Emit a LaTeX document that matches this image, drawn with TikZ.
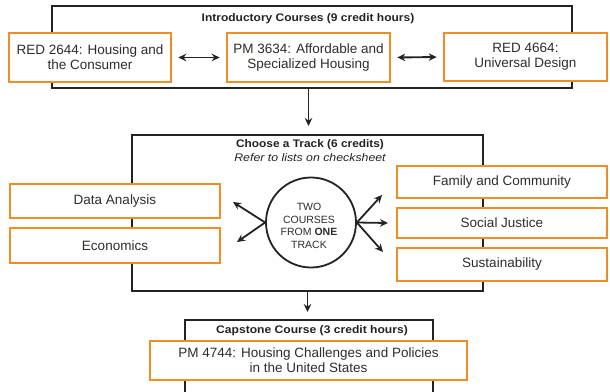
\documentclass[tikz,border=0pt]{standalone}
\usepackage{fontspec}
\setmainfont{Liberation Sans}
\usetikzlibrary{arrows.meta}
\definecolor{orng}{RGB}{238,142,36}
\definecolor{dk}{RGB}{35,35,35}
\definecolor{txt}{RGB}{45,45,45}
\begin{document}
\begin{tikzpicture}[x=1pt,y=-1pt,
  frame/.style={draw=dk, line width=2pt, inner sep=0pt},
  course/.style={draw=orng, line width=2.6pt, fill=white, inner sep=0pt, align=center,
     font=\fontsize{13.5}{15}\selectfont, text=txt},
  ttl/.style={font=\fontsize{11}{13}\selectfont\bfseries, text=dk, inner sep=0pt},
  sub/.style={font=\fontsize{11}{13}\selectfont\itshape, text=dk, inner sep=0pt},
  tip/.style={-{Stealth[length=8pt,width=7.5pt]}, line width=1.8pt, draw=dk},
  dbl/.style={{Stealth[length=8pt,width=7.5pt]}-{Stealth[length=8pt,width=7.5pt]}, line width=1.9pt, draw=dk,
     shorten <=6pt, shorten >=6pt}
]
\useasboundingbox (0,0) rectangle (610,391);
\fill[white] (0,0) rectangle (610,391);

% frames
\node[frame, minimum width=520pt, minimum height=82pt] (intro) at (312,47) {};
\node[frame, minimum width=351pt, minimum height=156pt] (track) at (307.5,213) {};
\node[frame, minimum width=248pt, minimum height=84pt] (cap) at (309,362) {};

% titles
\node[ttl] (t1) at (308,19) {\scalebox{1.09}[1]{Introductory Courses (9 credit hours)}};
\node[ttl] (t2) at (310,145) {\scalebox{1.08}[1]{Choose a Track (6 credits)}};
\node[sub] (t2b) at (310,158) {\scalebox{1.12}[1]{Refer to lists on checksheet}};
\node[ttl] (t3) at (312,331) {\scalebox{1.1}[1]{Capstone Course (3 credit hours)}};

% intro courses
\node[course, minimum width=162pt, minimum height=49pt] (red2644) at (90,57.5) {RED 2644: Housing and\\the Consumer};
\node[course, minimum width=163pt, minimum height=49pt] (pm3634) at (308.5,57.5) {PM 3634: Affordable and\\Specialized Housing};
\node[course, minimum width=163pt, minimum height=48pt] (red4664) at (525.5,57) {RED 4664:\\Universal Design};
\draw[dbl] (red2644.east) -- (pm3634.west);
\draw[dbl] (pm3634.east) -- (red4664.west);

% tracks
\node[course, minimum width=210pt, minimum height=34pt] (data) at (115,201) {Data Analysis};
\node[course, minimum width=210pt, minimum height=35pt] (econ) at (115,245.5) {Economics};
\node[course, minimum width=210pt, minimum height=32pt] (family) at (502,182) {Family and Community};
\node[course, minimum width=210pt, minimum height=30pt] (social) at (502,223) {Social Justice};
\node[course, minimum width=210pt, minimum height=33pt] (sustain) at (502,264.5) {Sustainability};

% circle
\node[draw=dk, line width=1.8pt, circle, minimum size=90pt, inner sep=0pt] (circ) at (311,222.5) {};
\node[align=center, text=txt, font=\fontsize{10.5}{12.6}\selectfont, inner sep=0pt] (ctext) at (309,226)
  {TWO\\COURSES\\FROM \textbf{ONE}\\TRACK};
\coordinate (l1) at (233,202);
\coordinate (l2) at (237,242);
\coordinate (r1) at (382,195);
\coordinate (r2) at (388,223);
\coordinate (r3) at (383,252);
\draw[tip] (circ.west) -- (l1);
\draw[tip] (circ.west) -- (l2);
\draw[tip] (circ.east) -- (r1);
\draw[tip] (circ.east) -- (r2);
\draw[tip] (circ.east) -- (r3);

% capstone
\node[course, minimum width=317pt, minimum height=39pt] (pm4744) at (308.5,360.5) {PM 4744: Housing Challenges and Policies\\in the United States};

% flow arrows
\draw[tip, shorten >=8pt] (pm3634.south |- intro.south) -- (pm3634.south |- track.north);
\draw[tip, shorten >=7pt] (track.south) -- (track.south |- cap.north);
\end{tikzpicture}
\end{document}
